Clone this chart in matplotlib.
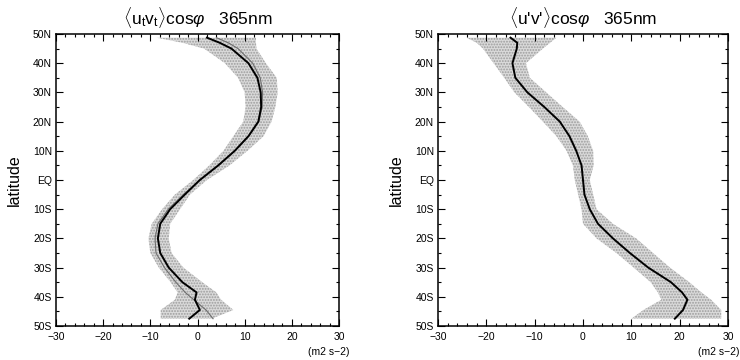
import numpy as np
import matplotlib
matplotlib.use("Agg")
import matplotlib.pyplot as plt
from matplotlib.ticker import MultipleLocator, FixedLocator

plt.rcParams['font.family'] = ['Liberation Sans', 'DejaVu Sans']
plt.rcParams['mathtext.fontset'] = 'custom'
plt.rcParams['mathtext.rm'] = 'Liberation Sans'
plt.rcParams['mathtext.it'] = 'Liberation Sans:italic'
plt.rcParams['hatch.linewidth'] = 0.9

# ---------------- data ----------------
lat = [48.75, 47, 45, 40, 35, 30, 25, 20, 15, 10, 5, 0, -5, -10, -15, -20,
       -25, -30, -35, -38.5, -41, -44.5, -47.5]

# left panel: <ut vt> cos(phi)
ut_mean = [2.0, 4.7, 7.2, 10.8, 12.7, 13.4, 13.5, 12.9, 10.8, 7.9, 4.4, 0.5,
           -2.7, -5.8, -7.9, -8.4, -7.9, -6.1, -3.2, -0.2, -0.55, 0.5, -1.75]
ut_ref = [4.0, 6.5, 8.6, 11.7, 13.3, 13.8, 13.7, 13.0, 10.8, 7.9, 4.4, 0.5,
          -3.0, -6.2, -8.4, -9.0, -8.8, -7.0, -4.6, -2.6, -0.8, 1.8, 3.3]
ut_lo = [-8.7, -3.2, 1.4, 5.8, 8.6, 10.0, 10.2, 9.7, 7.6, 5.5, 2.5, -0.9,
         -4.8, -7.5, -9.7, -10.4, -10.0, -8.2, -5.7, -4.2, -4.8, -7.8, -7.8]
ut_hi = [12.4, 12.4, 12.5, 14.5, 16.8, 17.0, 16.5, 15.7, 14.0, 10.6, 6.8, 2.0,
         -1.6, -3.7, -5.8, -6.1, -5.5, -3.0, 1.0, 4.0, 5.0, 7.6, 3.0]

# right panel: <u'v'> cos(phi)
uv_mean = [-15.0, -13.6, -13.7, -14.6, -14.0, -11.5, -8.0, -4.8, -2.8, -1.4,
           -0.3, 0.0, 0.3, 1.4, 3.1, 6.2, 9.7, 13.5, 18.2, 20.5, 21.6, 20.7, 19.0]
uv_lo = [-24.1, -22.0, -20.7, -18.5, -16.3, -14.2, -11.2, -8.3, -5.5, -3.4,
         -2.1, -1.7, -1.0, -0.3, 0.0, 2.8, 6.9, 10.5, 14.0, 15.5, 16.2, 12.5, 10.0]
uv_hi = [-5.5, -6.8, -8.3, -11.8, -11.0, -7.6, -4.2, -0.7, 1.0, 2.1, 2.2, 1.4,
         2.1, 2.8, 6.2, 11.0, 14.5, 18.0, 22.0, 24.5, 26.5, 28.6, 28.6]

titles = [r'$\langle$u$_\mathrm{t}$v$_\mathrm{t}$$\rangle$cos$\varphi$   365nm',
          r"$\langle$u'v'$\rangle$cos$\varphi$   365nm"]
ytick_vals = [-50, -40, -30, -20, -10, 0, 10, 20, 30, 40, 50]
ytick_labels = ['50S', '40S', '30S', '20S', '10S', 'EQ', '10N', '20N', '30N', '40N', '50N']
xtick_vals = [-30, -20, -10, 0, 10, 20, 30]
xtick_labels = ['\u221230', '\u221220', '\u221210', '0', '10', '20', '30']
units = '(m2 s\u22122)'

# ---------------- figure ----------------
W, H = 740, 360
fig = plt.figure(figsize=(W / 100, H / 100), dpi=100)

ax_boxes = [(56, 34, 283, 292), (438, 34, 290, 292)]  # pixels: left, top, width, height
axes = []
for (l, t, w, h) in ax_boxes:
    ax = fig.add_axes([l / W, 1 - (t + h) / H, w / W, h / H])
    axes.append(ax)

panels = [(ut_lo, ut_hi, ut_mean, ut_ref), (uv_lo, uv_hi, uv_mean, None)]

for ax, (lo, hi, mean, ref), title in zip(axes, panels, titles):
    ax.fill_betweenx(lat, lo, hi, facecolor='#dadada', edgecolor='#9c9c9c',
                     hatch='......', linewidth=0, zorder=1)
    if ref is not None:
        ax.plot(ref, lat, color='#6e6e6e', lw=0.8, zorder=2)
    ax.plot(mean, lat, color='black', lw=1.4, zorder=3)

    ax.set_xlim(-30, 30)
    ax.set_ylim(-50, 50)
    ax.xaxis.set_major_locator(FixedLocator(xtick_vals))
    ax.set_xticklabels(xtick_labels)
    ax.xaxis.set_minor_locator(MultipleLocator(2))
    ax.yaxis.set_major_locator(FixedLocator(ytick_vals))
    ax.set_yticklabels(ytick_labels)
    ax.yaxis.set_minor_locator(MultipleLocator(5))
    ax.tick_params(which='both', direction='in', top=True, right=True,
                   width=0.8, labelsize=7.5, colors='black')
    ax.tick_params(which='major', length=5)
    ax.tick_params(which='minor', length=2.5)
    ax.tick_params(axis='x', pad=4)
    ax.tick_params(axis='y', pad=3)
    for s in ax.spines.values():
        s.set_linewidth(1.1)
    ax.set_ylabel('latitude', fontsize=11.5, labelpad=8)
    ax.set_title(title, fontsize=12.5, pad=7)

for (l, t, w, h) in ax_boxes:
    fig.text((l + w + 11) / W, 1 - 352 / H, units, ha='right', va='center', fontsize=7.5)

fig.savefig('out.png', dpi=100)
